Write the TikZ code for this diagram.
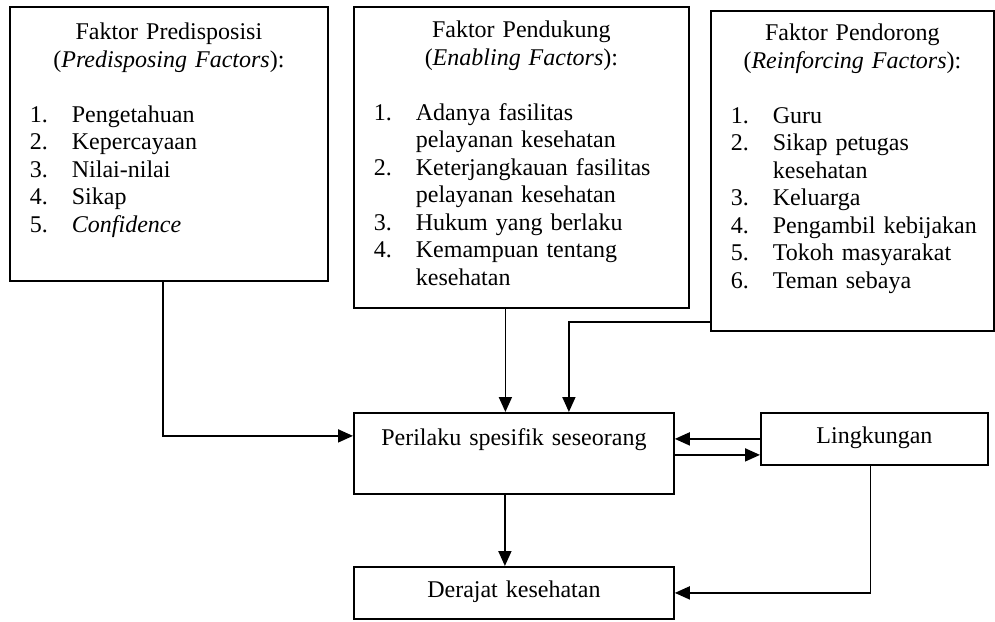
\documentclass[tikz,border=0pt]{standalone}
\usepackage{fontspec}
\setmainfont{Liberation Serif}
\usetikzlibrary{arrows.meta}

\newcommand{\butir}[2]{\par\noindent\hangindent=31pt\hangafter=1\hspace*{10pt}\makebox[21pt][l]{#1}#2}
\newcommand{\judul}[2]{{\centering #1\\ (\textit{#2}):\par}\vskip\baselineskip}

\tikzset{
	kotak/.style={draw, line width=0.9pt, inner sep=0pt, anchor=north west, font=\fontsize{12}{13.75}\selectfont},
	faktor/.style={kotak, align=left},
	panah/.style={line width=0.9pt, -{Triangle[length=7.5pt,width=6.5pt]}}
}

\begin{document}
\begin{tikzpicture}[x=0.5pt,y=0.5pt,yscale=-1,xscale=1]
		\useasboundingbox (0,0) rectangle (995,621);

		% Faktor Predisposisi
		\node [faktor, text width=159pt, text height=16.5pt, text depth=120.5pt] (predis) at (9,6) {%
			\judul{Faktor Predisposisi}{Predisposing Factors}%
			\butir{1.}{Pengetahuan}
			\butir{2.}{Kepercayaan}
			\butir{3.}{Nilai-nilai}
			\butir{4.}{Sikap}
			\butir{5.}{\textit{Confidence}}\par};
		% Faktor Pendukung
		\node [faktor, text width=167.5pt, text height=15.5pt, text depth=135pt] (dukung) at (353,6) {%
			\judul{Faktor Pendukung}{Enabling Factors}%
			\butir{1.}{Adanya fasilitas\newline pelayanan kesehatan}
			\butir{2.}{Keterjangkauan fasilitas\newline pelayanan kesehatan}
			\butir{3.}{Hukum yang berlaku}
			\butir{4.}{Kemampuan tentang\newline kesehatan}\par};
		% Faktor Pendorong
		\node [faktor, text width=141.5pt, text height=15pt, text depth=145pt] (dorong) at (710,10) {%
			\judul{Faktor Pendorong}{Reinforcing Factors}%
			\butir{1.}{Guru}
			\butir{2.}{Sikap petugas\newline kesehatan}
			\butir{3.}{Keluarga}
			\butir{4.}{Pengambil kebijakan}
			\butir{5.}{Tokoh masyarakat}
			\butir{6.}{Teman sebaya}\par};

		% Perilaku, Lingkungan, Derajat
		\node [kotak, text width=160pt, align=center, text height=16.5pt, text depth=24pt] (perilaku) at (353,412) {Perilaku spesifik seseorang};
		\node [kotak, text width=113.5pt, align=center, text height=15.5pt, text depth=10.5pt] (lingk) at (760,412) {Lingkungan};
		\node [kotak, text width=160pt, align=center, text height=15.5pt, text depth=10.5pt] (derajat) at (353,566) {Derajat kesehatan};

		% Arrows
		\draw [panah] ([xshift=-3pt]predis.south) |- ([yshift=-8.75pt]perilaku.west);
		\draw [panah] ([xshift=-8pt]dukung.south) -- ([xshift=-8pt]dukung.south |- perilaku.north);
		\draw [panah] ([yshift=-5pt]dorong.south west) -| ([xshift=27.5pt]perilaku.north);
		\draw [panah] (lingk.west) -- (lingk.west -| perilaku.east);
		\draw [panah] ([yshift=8pt]perilaku.east |- lingk.west) -- ([yshift=8pt]lingk.west);
		\draw [panah] ([xshift=-4.5pt]perilaku.south) -- ([xshift=-4.5pt]perilaku.south |- derajat.north);
		\draw [panah] ([xshift=-2pt]lingk.south) |- (derajat.east);
	\end{tikzpicture}
\end{document}
